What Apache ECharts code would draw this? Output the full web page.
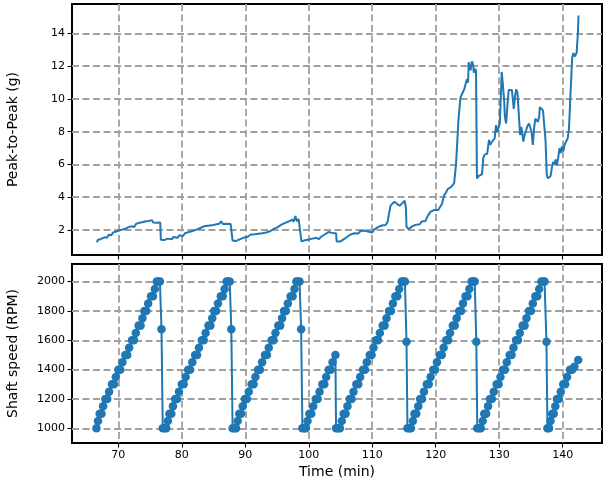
<!DOCTYPE html>
<html>
<head>
<meta charset="utf-8">
<script src="https://cdn.jsdelivr.net/npm/echarts@6/dist/echarts.min.js"></script>
<style>
  html, body { margin: 0; padding: 0; background: #fff; }
  #chart { width: 605px; height: 482px; }
</style>
</head>
<body>
<div id="chart"></div>
<script>
// peak-to-peak vibration (g) against time (min)
var p2pTime = [
  66.6, 66.8, 67.0, 67.3, 67.5, 67.8, 68.0, 68.2, 68.5, 68.7, 68.9, 69.2, 69.4, 69.7, 69.9,
  70.1, 70.3, 70.6, 70.8, 71.1, 71.3, 71.6, 71.8, 72.0, 72.3, 72.5, 72.8, 73.0, 73.3, 73.5,
  73.8, 74.0, 74.3, 74.5, 74.8, 75.0, 75.3, 75.5, 75.8, 76.0, 76.3, 76.6, 76.7, 76.9, 77.2,
  77.5, 77.8, 78.1, 78.4, 78.7, 79.0, 79.3, 79.6, 79.9, 80.2, 80.5, 80.8, 81.1, 81.4, 81.7,
  82.0, 82.3, 82.6, 82.9, 83.2, 83.5, 83.8, 84.1, 84.4, 84.7, 85.0, 85.3, 85.6, 85.9, 86.2,
  86.5, 86.8, 87.1, 87.4, 87.7, 87.9, 88.0, 88.2, 88.5, 88.8, 89.1, 89.4, 89.7, 90.0, 90.3,
  90.6, 90.9, 91.2, 91.5, 91.8, 92.1, 92.4, 92.7, 93.0, 93.3, 93.6, 93.9, 94.2, 94.5, 94.8,
  95.1, 95.4, 95.7, 96.0, 96.3, 96.6, 96.9, 97.1, 97.4, 97.6, 97.9, 98.1, 98.4, 98.7, 98.85,
  99.1, 99.4, 99.7, 100.0, 100.3, 100.6, 100.9, 101.2, 101.6, 101.9, 102.2, 102.5, 102.8, 103.1, 103.4,
  103.7, 104.0, 104.3, 104.4, 104.7, 105.0, 105.3, 105.6, 106.0, 106.3, 106.6, 106.9, 107.2, 107.5, 107.8,
  108.1, 108.4, 108.7, 109.0, 109.3, 109.6, 110.0, 110.3, 110.6, 110.9, 111.2, 111.5, 111.8, 112.1, 112.4,
  112.7, 112.9, 113.2, 113.5, 113.7, 113.9, 114.1, 114.3, 114.5, 114.7, 114.9, 115.1, 115.3, 115.4, 115.7,
  116.0, 116.3, 116.6, 116.9, 117.2, 117.5, 117.8, 118.1, 118.4, 118.7, 119.0, 119.2, 119.5, 119.8, 120.1,
  120.4, 120.7, 121.0, 121.3, 121.6, 121.9, 122.1, 122.4, 122.6, 122.9, 123.2, 123.4, 123.6, 123.9, 124.2,
  124.5, 124.7, 124.9, 125.1, 125.2, 125.4, 125.5, 125.7, 125.9, 126.0, 126.2, 126.35, 126.5, 126.8, 127.0,
  127.3, 127.5, 127.7, 127.9, 128.1, 128.3, 128.4, 128.6, 128.8, 129.1, 129.3, 129.5, 129.7, 129.9, 130.1,
  130.3, 130.4, 130.6, 130.8, 130.9, 131.1, 131.3, 131.5, 131.7, 132.0, 132.2, 132.3, 132.5, 132.7, 132.9,
  133.1, 133.3, 133.5, 133.8, 134.0, 134.2, 134.4, 134.7, 134.9, 135.1, 135.3, 135.5, 135.7, 135.9, 136.1,
  136.3, 136.4, 136.6, 136.9, 137.1, 137.3, 137.5, 137.7, 137.9, 138.1, 138.3, 138.5, 138.7, 138.9, 139.1,
  139.3, 139.5, 139.7, 139.9, 140.1, 140.3, 140.6, 140.8, 141.0, 141.2, 141.5, 141.7, 141.9, 142.1, 142.2,
  142.4, 142.5
];
var p2pValue = [
  1.25, 1.4, 1.35, 1.45, 1.42, 1.55, 1.6, 1.52, 1.7, 1.78, 1.68, 1.85, 1.76, 1.9, 1.82,
  1.97, 1.88, 2.02, 1.93, 2.07, 1.98, 2.17, 2.08, 2.22, 2.3, 2.18, 2.37, 2.28, 2.44, 2.34,
  2.47, 2.38, 2.53, 2.42, 2.55, 2.44, 2.6, 2.46, 2.55, 2.44, 2.53, 2.45, 1.4, 1.3, 1.38,
  1.33, 1.47, 1.5, 1.43, 1.57, 1.6, 1.52, 1.67, 1.72, 1.63, 1.8, 1.73, 1.87, 1.78, 1.94,
  1.88, 2.02, 1.96, 2.12, 2.15, 2.22, 2.32, 2.26, 2.38, 2.28, 2.4, 2.33, 2.45, 2.38, 2.52,
  2.36, 2.47, 2.38, 2.5, 2.36, 2.4, 1.35, 1.25, 1.32, 1.24, 1.42, 1.34, 1.52, 1.44, 1.57,
  1.6, 1.72, 1.63, 1.74, 1.68, 1.77, 1.69, 1.8, 1.73, 1.84, 1.85, 1.92, 1.95, 2.07, 2.1,
  2.17, 2.24, 2.32, 2.26, 2.43, 2.34, 2.53, 2.44, 2.63, 2.5, 2.85, 2.53, 2.67, 2.55, 1.3,
  1.25, 1.37, 1.3, 1.42, 1.34, 1.47, 1.4, 1.52, 1.44, 1.57, 1.6, 1.72, 1.75, 1.87, 1.76,
  1.82, 1.74, 1.8, 1.3, 1.25, 1.3, 1.37, 1.45, 1.57, 1.6, 1.72, 1.64, 1.8, 1.84, 1.78,
  1.92, 1.84, 1.97, 1.89, 1.9, 1.84, 1.84, 2.02, 2.1, 2.17, 2.2, 2.27, 2.35, 2.3, 2.47,
  3.1, 3.5, 3.6, 3.72, 3.78, 3.6, 3.67, 3.48, 3.42, 3.62, 3.53, 3.78, 3.4, 2.2, 2.05,
  2.0, 2.22, 2.25, 2.32, 2.42, 2.35, 2.52, 2.62, 2.55, 2.82, 2.9, 3.12, 3.0, 3.22, 3.15,
  3.22, 3.17, 3.6, 4.1, 4.27, 4.5, 4.38, 4.62, 4.5, 4.85, 6.0, 7.4, 8.8, 10.1, 10.35,
  10.6, 10.9, 11.2, 11.0, 12.25, 11.9, 11.75, 12.3, 12.1, 11.6, 11.85, 11.7, 5.15, 5.3, 5.35,
  5.4, 6.4, 6.6, 6.55, 6.65, 6.6, 7.5, 7.2, 7.35, 7.4, 7.6, 8.4, 8.0, 8.05, 8.5,
  10.5, 11.65, 10.8, 9.8, 8.9, 8.5, 9.6, 10.55, 10.5, 10.55, 9.8, 9.4, 10.2, 10.6, 10.3,
  9.0, 7.8, 8.3, 7.4, 7.8, 8.0, 8.3, 8.5, 8.6, 8.0, 7.2, 8.2, 8.8, 8.7, 8.6,
  8.9, 9.5, 9.4, 9.3, 9.2, 7.5, 5.35, 5.15, 5.05, 5.3, 5.8, 6.15, 6.0, 6.3, 5.95,
  6.4, 7.0, 6.7, 7.1, 6.8, 7.2, 7.3, 7.6, 8.2, 10.0, 12.5, 12.8, 12.6, 12.7, 12.8,
  14.0, 15.1
];

// shaft speed (RPM) against time (min)
var spdTime = [
  66.55, 66.8, 67.05, 67.35, 67.6, 67.95, 68.25, 68.55, 69.0, 69.3, 69.6, 70.0, 70.3, 70.65, 71.1, 71.4, 71.7, 72.15,
  72.45, 72.75, 73.2, 73.5, 73.8, 74.1, 74.4, 74.7, 75.15, 75.45, 75.75, 76.05, 76.3, 76.55, 76.8, 77.0, 77.3, 77.55,
  77.8, 78.05, 78.35, 78.6, 78.95, 79.25, 79.55, 80.0, 80.3, 80.6, 81.0, 81.3, 81.65, 82.1, 82.4, 82.7, 83.15, 83.45,
  83.75, 84.2, 84.5, 84.8, 85.1, 85.4, 85.7, 86.15, 86.45, 86.75, 87.05, 87.3, 87.55, 87.8, 88.0, 88.3, 88.55,
  88.8, 89.05, 89.35, 89.6, 89.95, 90.25, 90.55, 91.0, 91.3, 91.6, 92.0, 92.3, 92.65, 93.1, 93.4, 93.7, 94.15, 94.45,
  94.75, 95.2, 95.5, 95.8, 96.1, 96.4, 96.7, 97.15, 97.45, 97.75, 98.05, 98.3, 98.55, 98.8, 99.0, 99.3, 99.55,
  99.8, 100.1, 100.4, 100.7, 101.1, 101.4, 101.7, 102.15, 102.45, 102.75, 103.15, 103.45, 103.75, 104.2, 104.3, 104.6, 104.9,
  105.2, 105.5, 105.8, 106.1, 106.45, 106.75, 107.05, 107.5, 107.8, 108.1, 108.55, 108.85, 109.15, 109.6, 109.9, 110.2, 110.6, 110.9,
  111.2, 111.65, 111.95, 112.25, 112.65, 112.95, 113.25, 113.65, 113.95, 114.25, 114.65, 114.9, 115.15, 115.4, 115.55, 115.85, 116.1,
  116.4, 116.65, 116.95, 117.25, 117.55, 117.85, 118.15, 118.6, 118.9, 119.2, 119.6, 119.9, 120.2, 120.65, 120.95, 121.25, 121.65, 121.95,
  122.25, 122.7, 123.0, 123.3, 123.7, 124.0, 124.3, 124.7, 125.0, 125.3, 125.65, 125.9, 126.15, 126.4, 126.55, 126.85, 127.1,
  127.4, 127.65, 127.95, 128.25, 128.55, 128.85, 129.15, 129.6, 129.9, 130.2, 130.6, 130.9, 131.2, 131.65, 131.95, 132.25, 132.65, 132.95,
  133.25, 133.7, 134.0, 134.3, 134.7, 135.0, 135.3, 135.7, 136.0, 136.3, 136.65, 136.9, 137.15, 137.45, 137.6, 137.85,
  138.1, 138.35, 138.6, 138.85, 139.1, 139.4, 139.7, 140.1, 140.4, 140.7, 141.15, 141.5, 141.85, 142.45
];
var spdRpm = [
  1000, 1050, 1100, 1100, 1150, 1200, 1200, 1250, 1300, 1300, 1350, 1400, 1400, 1450, 1500, 1500, 1550, 1600,
  1600, 1650, 1700, 1700, 1750, 1800, 1800, 1850, 1900, 1900, 1950, 2000, 2000, 2000, 1675, 1000, 1000, 1000,
  1050, 1100, 1100, 1150, 1200, 1200, 1250, 1300, 1300, 1350, 1400, 1400, 1450, 1500, 1500, 1550, 1600, 1600,
  1650, 1700, 1700, 1750, 1800, 1800, 1850, 1900, 1900, 1950, 2000, 2000, 2000, 1675, 1000, 1000, 1000,
  1050, 1100, 1100, 1150, 1200, 1200, 1250, 1300, 1300, 1350, 1400, 1400, 1450, 1500, 1500, 1550, 1600, 1600,
  1650, 1700, 1700, 1750, 1800, 1800, 1850, 1900, 1900, 1950, 2000, 2000, 2000, 1675, 1000, 1000, 1000,
  1050, 1100, 1100, 1150, 1200, 1200, 1250, 1300, 1300, 1350, 1400, 1400, 1450, 1500, 1000, 1000, 1000,
  1050, 1100, 1100, 1150, 1200, 1200, 1250, 1300, 1300, 1350, 1400, 1400, 1450, 1500, 1500, 1550, 1600, 1600,
  1650, 1700, 1700, 1750, 1800, 1800, 1850, 1900, 1900, 1950, 2000, 2000, 2000, 1590, 1000, 1000, 1000,
  1050, 1100, 1100, 1150, 1200, 1200, 1250, 1300, 1300, 1350, 1400, 1400, 1450, 1500, 1500, 1550, 1600, 1600,
  1650, 1700, 1700, 1750, 1800, 1800, 1850, 1900, 1900, 1950, 2000, 2000, 2000, 1590, 1000, 1000, 1000,
  1050, 1100, 1100, 1150, 1200, 1200, 1250, 1300, 1300, 1350, 1400, 1400, 1450, 1500, 1500, 1550, 1600, 1600,
  1650, 1700, 1700, 1750, 1800, 1800, 1850, 1900, 1900, 1950, 2000, 2000, 2000, 1590, 1000, 1000,
  1050, 1100, 1100, 1150, 1200, 1200, 1250, 1300, 1300, 1350, 1400, 1400, 1420, 1465
];

var timeTicks = [70, 80, 90, 100, 110, 120, 130, 140];
var p2pTicks = [2, 4, 6, 8, 10, 12, 14];
var spdTicks = [1000, 1200, 1400, 1600, 1800, 2000];

var blue = '#1f77b4';
var font = 'DejaVu Sans';

function pairs(xs, ys) {
  return xs.map(function (x, i) { return [x, ys[i]]; });
}

var gridLine = { show: true, lineStyle: { color: '#a0a0a0', width: 1.8, type: [7, 3.5] } };

function plain(v) { return String(v); }

function xAx(gridIndex, labels, name) {
  return {
    type: 'value', gridIndex: gridIndex, min: 62.7, max: 146.2,
    axisLine: { show: false },
    axisTick: { show: true, customValues: timeTicks, length: 4.5, lineStyle: { color: '#000', width: 1.1 } },
    axisLabel: { show: labels, customValues: timeTicks, formatter: plain, margin: 7, color: '#000', fontFamily: font, fontSize: 11 },
    splitLine: gridLine,
    name: name, nameLocation: 'middle', nameGap: 22,
    nameTextStyle: { color: '#000', fontFamily: font, fontSize: 14 }
  };
}

function yAx(gridIndex, min, max, ticks, name) {
  return {
    type: 'value', gridIndex: gridIndex, min: min, max: max,
    axisLine: { show: false },
    axisTick: { show: true, customValues: ticks, length: 4.5, lineStyle: { color: '#000', width: 1.1 } },
    axisLabel: { customValues: ticks, formatter: plain, margin: 7, color: '#000', fontFamily: font, fontSize: 11 },
    splitLine: gridLine,
    name: name, nameLocation: 'middle', nameGap: 52,
    nameTextStyle: { color: '#000', fontFamily: font, fontSize: 14 }
  };
}

var myChart = echarts.init(document.getElementById('chart'), null, { renderer: 'canvas' });

var option = {
  animation: false,
  backgroundColor: '#fff',
  grid: [
    { left: 72, top: 4, width: 530, height: 251, outerBoundsMode: 'none', containLabel: false,
      show: true, borderColor: '#000', borderWidth: 2, backgroundColor: 'transparent' },
    { left: 72, top: 264, width: 530, height: 179, outerBoundsMode: 'none', containLabel: false,
      show: true, borderColor: '#000', borderWidth: 2, backgroundColor: 'transparent' }
  ],
  xAxis: [
    xAx(0, false, ''),
    xAx(1, true, 'Time (min)')
  ],
  yAxis: [
    yAx(0, 0.47, 15.8, p2pTicks, 'Peak-to-Peak (g)'),
    yAx(1, 900, 2120, spdTicks, 'Shaft speed (RPM)')
  ],
  series: [
    {
      type: 'line', xAxisIndex: 0, yAxisIndex: 0,
      data: pairs(p2pTime, p2pValue),
      showSymbol: false,
      lineStyle: { color: blue, width: 2 },
      itemStyle: { color: blue }
    },
    {
      type: 'line', xAxisIndex: 1, yAxisIndex: 1,
      data: pairs(spdTime, spdRpm),
      symbol: 'circle', symbolSize: 8.5, showAllSymbol: true,
      lineStyle: { color: blue, width: 2 },
      itemStyle: { color: blue }
    }
  ]
};

myChart.setOption(option);
</script>
</body>
</html>
